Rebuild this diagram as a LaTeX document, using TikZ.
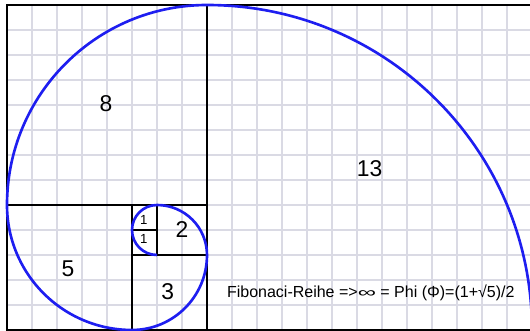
\documentclass[tikz,border=0pt]{standalone}
\usepackage{fontspec}
\setmainfont{Liberation Sans}
\usepackage{graphicx}
\usetikzlibrary{positioning}

\definecolor{gridgray}{RGB}{218,218,228}
\definecolor{spiralblue}{RGB}{30,30,240}

\tikzset{
    gridline/.style={draw=gridgray, line width=0.6pt},
    square/.style={draw=black, line width=1.1pt},
    spiral/.style={draw=spiralblue, line width=1.5pt},
    number/.style={font=\fontsize{13}{13}\selectfont},
    small number/.style={font=\fontsize{7.5}{7.5}\selectfont, inner sep=0pt}
}

\begin{document}
\begin{tikzpicture}[x=0.5cm, y=0.5cm]
    \useasboundingbox (-0.28,0.2) rectangle (20.92,-13.04);
    % grid
    \draw[gridline, step=0.5cm] (0,0) grid (21,-13);
    % squares
    \draw[square] (0,0) rectangle (21,-13);
    \draw[square] (8,0) -- (8,-13);
    \draw[square] (0,-8) -- (8,-8);
    \draw[square] (5,-8) -- (5,-13);
    \draw[square] (5,-10) -- (8,-10);
    \draw[square] (6,-8) -- (6,-10);
    \draw[square] (5,-9) -- (6,-9);
    % spiral
    \draw[spiral] (6,-10) arc[start angle=270, end angle=90, radius=1]
        arc[start angle=90, end angle=0, radius=2]
        arc[start angle=0, end angle=-90, radius=3]
        arc[start angle=-90, end angle=-180, radius=5]
        arc[start angle=180, end angle=90, radius=8]
        arc[start angle=90, end angle=0, radius=13];
    % labels
    \node[number] (eight) at (3.96,-3.95) {8};
    \node[number] (thirteen) at (14.5,-6.55) {13};
    \node[number] (five) at (2.44,-10.56) {5};
    \node[number] (three) at (6.43,-11.47) {3};
    \node[number] (two) at (7.0,-8.97) {2};
    \node[small number] (oneA) at (5.47,-8.6) {1};
    \node[small number] (oneB) at (5.47,-9.35) {1};
    \node[anchor=west, inner sep=0pt, font=\fontsize{9.1}{9.1}\selectfont] (phi) at (8.79,-11.52)
        {Fibonaci-Reihe =>\scalebox{1.6}[0.9]{∞} = Phi (Φ)=(1+√5)/2};
\end{tikzpicture}
\end{document}
